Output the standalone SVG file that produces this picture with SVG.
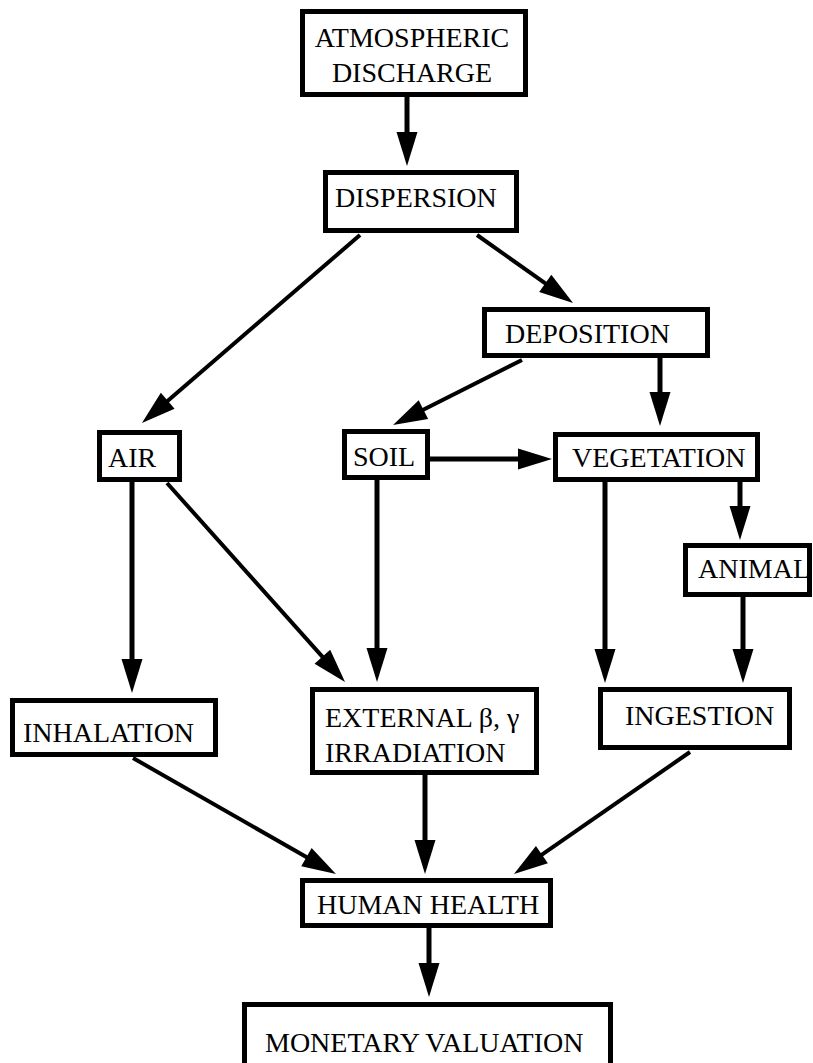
<svg xmlns="http://www.w3.org/2000/svg" width="813" height="1063" viewBox="0 0 813 1063">
<style>
.box{fill:#fff;stroke:#000;stroke-width:5}
.t{font-family:"Liberation Serif","Times New Roman",serif;font-size:28px;fill:#000}
.v{stroke:#000;stroke-width:5;fill:none;marker-end:url(#ah)}
.d{stroke:#000;stroke-width:4;fill:none;marker-end:url(#ah)}
</style>
<defs>
<marker id="ah" markerUnits="userSpaceOnUse" markerWidth="36" markerHeight="24" refX="14" refY="10.5" orient="auto" overflow="visible">
<path d="M0,0 L34,10.5 L0,21 Z" fill="#000"/>
</marker>
</defs>
<rect width="813" height="1063" fill="#fff"/>
<g id="connectors">
<line class="v" x1="407" y1="97" x2="407" y2="146"/>
<line class="v" x1="660" y1="358" x2="660" y2="406"/>
<line class="v" x1="430" y1="459" x2="532" y2="459"/>
<line class="v" x1="132" y1="482" x2="132" y2="673"/>
<line class="v" x1="377" y1="480" x2="377" y2="662"/>
<line class="v" x1="605" y1="482" x2="605" y2="663"/>
<line class="v" x1="740" y1="482" x2="740" y2="520"/>
<line class="v" x1="743" y1="597" x2="743" y2="663"/>
<line class="v" x1="425" y1="775" x2="425" y2="854"/>
<line class="v" x1="429" y1="928" x2="429" y2="977"/>
<line class="d" x1="360" y1="235" x2="157.1" y2="409.9"/>
<line class="d" x1="477" y1="235" x2="556.7" y2="291.4"/>
<line class="d" x1="522" y1="360" x2="410.9" y2="416"/>
<line class="d" x1="167" y1="483" x2="331.7" y2="667.1"/>
<line class="d" x1="133" y1="758" x2="318.6" y2="864.1"/>
<line class="d" x1="690" y1="752" x2="530.4" y2="862.6"/>
</g>
<g id="atmospheric-discharge">
<rect class="box" x="302.5" y="11.5" width="223" height="83"/>
<text class="t" x="412" y="47" text-anchor="middle">ATMOSPHERIC</text>
<text class="t" x="412" y="82" text-anchor="middle">DISCHARGE</text>
</g>
<g id="dispersion">
<rect class="box" x="325.5" y="172.5" width="191" height="58"/>
<text class="t" x="335" y="207">DISPERSION</text>
</g>
<g id="deposition">
<rect class="box" x="484.5" y="309.5" width="223" height="46"/>
<text class="t" x="505" y="343">DEPOSITION</text>
</g>
<g id="air">
<rect class="box" x="99.5" y="432.5" width="80" height="47"/>
<text class="t" x="108" y="467">AIR</text>
</g>
<g id="soil">
<rect class="box" x="344.5" y="431.5" width="83" height="46"/>
<text class="t" x="353" y="466">SOIL</text>
</g>
<g id="vegetation">
<rect class="box" x="555.5" y="434.5" width="202" height="45"/>
<text class="t" x="572" y="467">VEGETATION</text>
</g>
<g id="animal">
<rect class="box" x="685.5" y="545.5" width="124" height="49"/>
<text class="t" x="698" y="578">ANIMAL</text>
</g>
<g id="inhalation">
<rect class="box" x="12.5" y="700.5" width="203" height="54"/>
<text class="t" x="23" y="742">INHALATION</text>
</g>
<g id="external-irradiation">
<rect class="box" x="312.5" y="689.5" width="224" height="83"/>
<text class="t" x="325" y="727">EXTERNAL β, γ</text>
<text class="t" x="325" y="762">IRRADIATION</text>
</g>
<g id="ingestion">
<rect class="box" x="600.5" y="689.5" width="189" height="58"/>
<text class="t" x="625" y="725">INGESTION</text>
</g>
<g id="human-health">
<rect class="box" x="302.5" y="880.5" width="248" height="45"/>
<text class="t" x="317" y="914">HUMAN HEALTH</text>
</g>
<g id="monetary-valuation">
<rect class="box" x="244.5" y="1004.5" width="366" height="80"/>
<text class="t" x="265" y="1052">MONETARY VALUATION</text>
</g>
</svg>
